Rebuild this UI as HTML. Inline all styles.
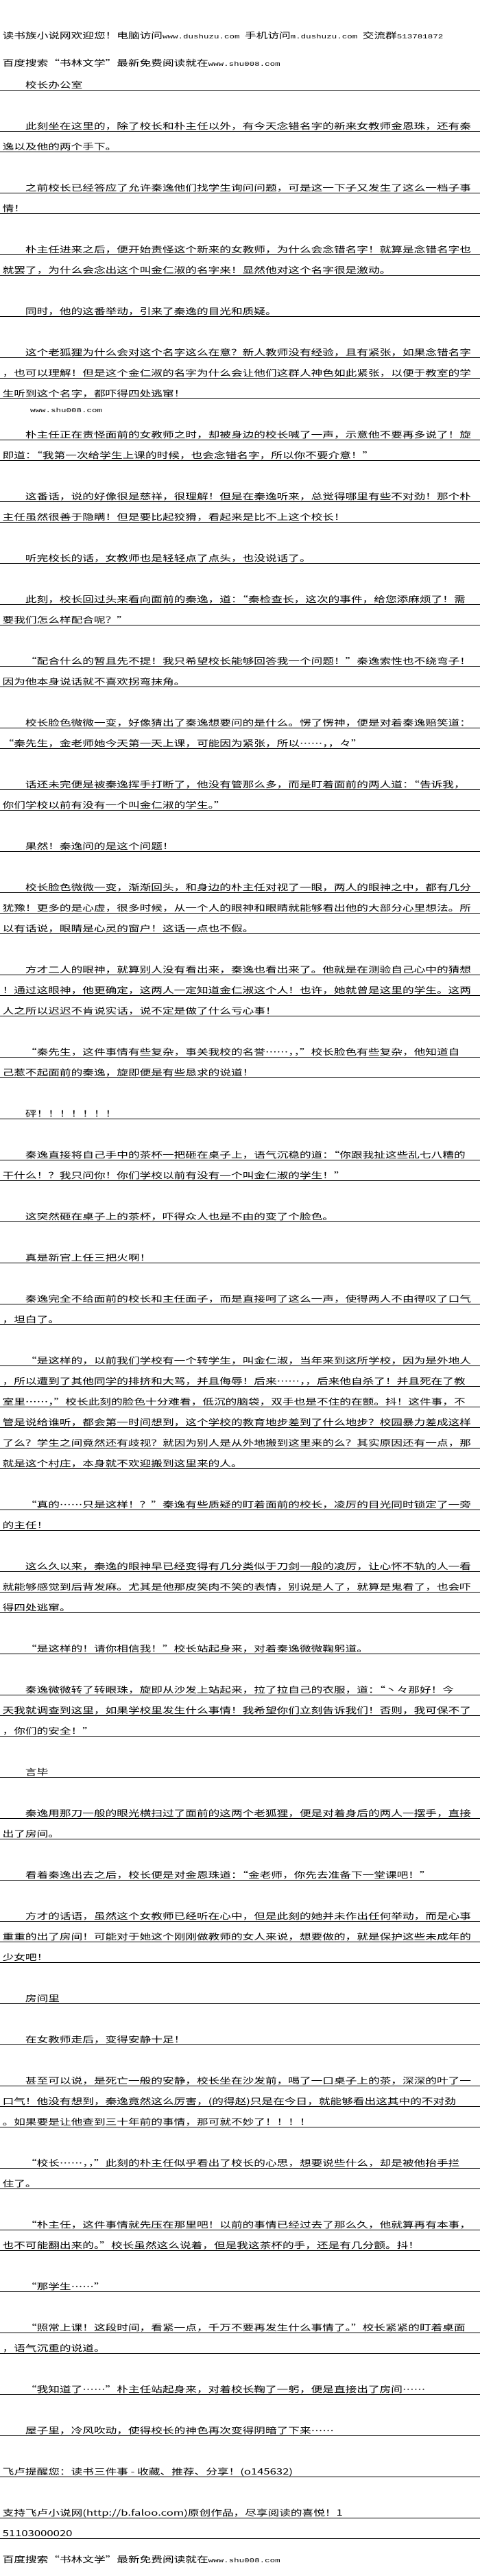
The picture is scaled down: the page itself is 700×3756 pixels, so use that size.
<!DOCTYPE html>
<html lang="zh-CN">
<head>
<meta charset="utf-8">
<style>
html,body{margin:0;padding:0;background:#fff;}
body{width:700px;height:3743px;overflow:hidden;position:relative;}
#w{position:absolute;left:0;top:102px;width:504px;transform:scaleX(1.3889);transform-origin:0 0;
font-family:"Noto Sans CJK SC","WenQuanYi Zen Hei",sans-serif;font-size:12px;color:#000;}
.l{height:29px;border-bottom:1px solid #000;line-height:44px;white-space:nowrap;padding-left:2.6px;}
.i{padding-left:26.6px;}
.b{height:30px;}
.a{position:absolute;left:2.6px;line-height:44px;white-space:nowrap;}
.m{font-family:"Liberation Mono",monospace;font-size:9px;}
</style>
</head>
<body>
<div id="w">
<div class="a" style="top:-72px">读书族小说网欢迎您！电脑访问<span class="m">www.dushuzu.com </span>手机访问<span class="m">m.dushuzu.com </span>交流群<span class="m">513781872</span></div>
<div class="a" style="top:-32px">百度搜索“书林文学”最新免费阅读就在<span class="m">www.shu008.com</span></div>

<div class="l i">校长办公室</div>
<div class="b"></div>
<div class="l i">此刻坐在这里的，除了校长和朴主任以外，有今天念错名字的新来女教师金恩珠，还有秦</div>
<div class="l">逸以及他的两个手下。</div>
<div class="b"></div>
<div class="l i">之前校长已经答应了允许秦逸他们找学生询问问题，可是这一下子又发生了这么一档子事</div>
<div class="l">情！</div>
<div class="b"></div>
<div class="l i">朴主任进来之后，便开始责怪这个新来的女教师，为什么会念错名字！就算是念错名字也</div>
<div class="l">就罢了，为什么会念出这个叫金仁淑的名字来！显然他对这个名字很是激动。</div>
<div class="b"></div>
<div class="l i">同时，他的这番举动，引来了秦逸的目光和质疑。</div>
<div class="b"></div>
<div class="l i">这个老狐狸为什么会对这个名字这么在意？新人教师没有经验，且有紧张，如果念错名字</div>
<div class="l">，也可以理解！但是这个金仁淑的名字为什么会让他们这群人神色如此紧张，以便于教室的学</div>
<div class="l">生听到这个名字，都吓得四处逃窜！</div>
<div class="b"></div>
<div class="l i">朴主任正在责怪面前的女教师之时，却被身边的校长喊了一声，示意他不要再多说了！旋</div>
<div class="l">即道：“我第一次给学生上课的时候，也会念错名字，所以你不要介意！”</div>
<div class="b"></div>
<div class="l i">这番话，说的好像很是慈祥，很理解！但是在秦逸听来，总觉得哪里有些不对劲！那个朴</div>
<div class="l">主任虽然很善于隐瞒！但是要比起狡猾，看起来是比不上这个校长！</div>
<div class="b"></div>
<div class="l i">听完校长的话，女教师也是轻轻点了点头，也没说话了。</div>
<div class="b"></div>
<div class="l i">此刻，校长回过头来看向面前的秦逸，道：“秦检查长，这次的事件，给您添麻烦了！需</div>
<div class="l">要我们怎么样配合呢？”</div>
<div class="b"></div>
<div class="l i">“配合什么的暂且先不提！我只希望校长能够回答我一个问题！”秦逸索性也不绕弯子！</div>
<div class="l">因为他本身说话就不喜欢拐弯抹角。</div>
<div class="b"></div>
<div class="l i">校长脸色微微一变，好像猜出了秦逸想要问的是什么。愣了愣神，便是对着秦逸赔笑道：</div>
<div class="l">“秦先生，金老师她今天第一天上课，可能因为紧张，所以……，，々”</div>
<div class="b"></div>
<div class="l i">话还未完便是被秦逸挥手打断了，他没有管那么多，而是盯着面前的两人道：“告诉我，</div>
<div class="l">你们学校以前有没有一个叫金仁淑的学生。”</div>
<div class="b"></div>
<div class="l i">果然！秦逸问的是这个问题！</div>
<div class="b"></div>
<div class="l i">校长脸色微微一变，渐渐回头，和身边的朴主任对视了一眼，两人的眼神之中，都有几分</div>
<div class="l">犹豫！更多的是心虚，很多时候，从一个人的眼神和眼睛就能够看出他的大部分心里想法。所</div>
<div class="l">以有话说，眼睛是心灵的窗户！这话一点也不假。</div>
<div class="b"></div>
<div class="l i">方才二人的眼神，就算别人没有看出来，秦逸也看出来了。他就是在测验自己心中的猜想</div>
<div class="l">！通过这眼神，他更确定，这两人一定知道金仁淑这个人！也许，她就曾是这里的学生。这两</div>
<div class="l">人之所以迟迟不肯说实话，说不定是做了什么亏心事！</div>
<div class="b"></div>
<div class="l i">“秦先生，这件事情有些复杂，事关我校的名誉……，，”校长脸色有些复杂，他知道自</div>
<div class="l">己惹不起面前的秦逸，旋即便是有些恳求的说道！</div>
<div class="b"></div>
<div class="l i">砰！！！！！！！</div>
<div class="b"></div>
<div class="l i">秦逸直接将自己手中的茶杯一把砸在桌子上，语气沉稳的道：“你跟我扯这些乱七八糟的</div>
<div class="l">干什么！？我只问你！你们学校以前有没有一个叫金仁淑的学生！”</div>
<div class="b"></div>
<div class="l i">这突然砸在桌子上的茶杯，吓得众人也是不由的变了个脸色。</div>
<div class="b"></div>
<div class="l i">真是新官上任三把火啊！</div>
<div class="b"></div>
<div class="l i">秦逸完全不给面前的校长和主任面子，而是直接呵了这么一声，使得两人不由得叹了口气</div>
<div class="l">，坦白了。</div>
<div class="b"></div>
<div class="l i">“是这样的，以前我们学校有一个转学生，叫金仁淑，当年来到这所学校，因为是外地人</div>
<div class="l">，所以遭到了其他同学的排挤和大骂，并且侮辱！后来……，，后来他自杀了！并且死在了教</div>
<div class="l">室里……，”校长此刻的脸色十分难看，低沉的脑袋，双手也是不住的在颤。抖！这件事，不</div>
<div class="l">管是说给谁听，都会第一时间想到，这个学校的教育地步差到了什么地步？校园暴力差成这样</div>
<div class="l">了么？学生之间竟然还有歧视？就因为别人是从外地搬到这里来的么？其实原因还有一点，那</div>
<div class="l">就是这个村庄，本身就不欢迎搬到这里来的人。</div>
<div class="b"></div>
<div class="l i">“真的……只是这样！？”秦逸有些质疑的盯着面前的校长，凌厉的目光同时锁定了一旁</div>
<div class="l">的主任！</div>
<div class="b"></div>
<div class="l i">这么久以来，秦逸的眼神早已经变得有几分类似于刀剑一般的凌厉，让心怀不轨的人一看</div>
<div class="l">就能够感觉到后背发麻。尤其是他那皮笑肉不笑的表情，别说是人了，就算是鬼看了，也会吓</div>
<div class="l">得四处逃窜。</div>
<div class="b"></div>
<div class="l i">“是这样的！请你相信我！”校长站起身来，对着秦逸微微鞠躬道。</div>
<div class="b"></div>
<div class="l i">秦逸微微转了转眼珠，旋即从沙发上站起来，拉了拉自己的衣服，道：“丶々那好！今</div>
<div class="l">天我就调查到这里，如果学校里发生什么事情！我希望你们立刻告诉我们！否则，我可保不了</div>
<div class="l">，你们的安全！”</div>
<div class="b"></div>
<div class="l i">言毕</div>
<div class="b"></div>
<div class="l i">秦逸用那刀一般的眼光横扫过了面前的这两个老狐狸，便是对着身后的两人一摆手，直接</div>
<div class="l">出了房间。</div>
<div class="b"></div>
<div class="l i">看着秦逸出去之后，校长便是对金恩珠道：“金老师，你先去准备下一堂课吧！”</div>
<div class="b"></div>
<div class="l i">方才的话语，虽然这个女教师已经听在心中，但是此刻的她并未作出任何举动，而是心事</div>
<div class="l">重重的出了房间！可能对于她这个刚刚做教师的女人来说，想要做的，就是保护这些未成年的</div>
<div class="l">少女吧！</div>
<div class="b"></div>
<div class="l i">房间里</div>
<div class="b"></div>
<div class="l i">在女教师走后，变得安静十足！</div>
<div class="b"></div>
<div class="l i">甚至可以说，是死亡一般的安静，校长坐在沙发前，喝了一口桌子上的茶，深深的叶了一</div>
<div class="l">口气！他没有想到，秦逸竟然这么厉害，(的得赵)只是在今日，就能够看出这其中的不对劲</div>
<div class="l">。如果要是让他查到三十年前的事情，那可就不妙了！！！！</div>
<div class="b"></div>
<div class="l i">“校长……，，”此刻的朴主任似乎看出了校长的心思，想要说些什么，却是被他抬手拦</div>
<div class="l">住了。</div>
<div class="b"></div>
<div class="l i">“朴主任，这件事情就先压在那里吧！以前的事情已经过去了那么久，他就算再有本事，</div>
<div class="l">也不可能翻出来的。”校长虽然这么说着，但是我这茶杯的手，还是有几分颤。抖！</div>
<div class="b"></div>
<div class="l i">“那学生……”</div>
<div class="b"></div>
<div class="l i">“照常上课！这段时间，看紧一点，千万不要再发生什么事情了。”校长紧紧的盯着桌面</div>
<div class="l">，语气沉重的说道。</div>
<div class="b"></div>
<div class="l i">“我知道了……”朴主任站起身来，对着校长鞠了一躬，便是直接出了房间……</div>
<div class="b"></div>
<div class="l i">屋子里，冷风吹动，使得校长的神色再次变得阴暗了下来……</div>
<div class="b"></div>
<div class="l">飞卢提醒您：读书三件事 - 收藏、推荐、分享！(o145632)</div>
<div class="b"></div>
<div class="l">支持飞卢小说网(http://b.faloo.com)原创作品，尽享阅读的喜悦！1</div>
<div class="l">51103000020</div>

<div class="a" style="top:473px;left:31.7px"><span class="m">www.shu008.com</span></div>
<div class="a" style="top:3608px">百度搜索“书林文学”最新免费阅读就在<span class="m">www.shu008.com</span></div>
</div>
</body>
</html>
